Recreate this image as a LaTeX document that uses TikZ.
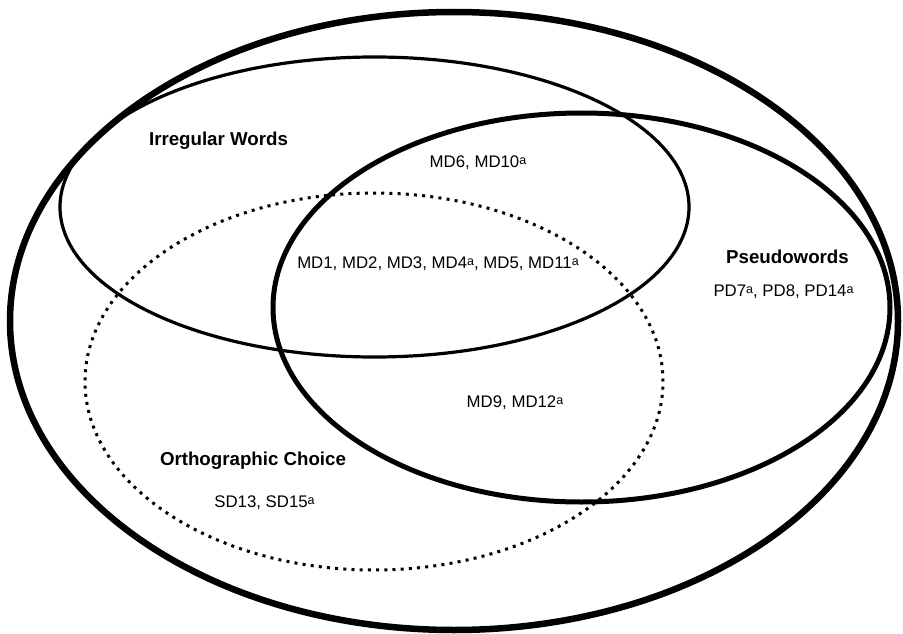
\documentclass[tikz,border=0pt]{standalone}
\usepackage{fontspec}
\setmainfont{Liberation Sans}
\tikzset{
	setname/.style={font=\fontsize{18.7}{22}\selectfont\bfseries,anchor=base},
	setitems/.style={font=\fontsize{16.8}{20}\selectfont,anchor=base},
	dotline/.style={line width=3pt,dash pattern=on 3pt off 5.2pt}
}
\newcommand{\sa}{\raisebox{3pt}{\fontsize{12.5}{12.5}\selectfont a}}
\begin{document}
\begin{tikzpicture}[x=1pt,y=-1pt]
	\useasboundingbox (0,0) rectangle (903,634);
	% sets
	\draw[line width=6.5pt](454,321) ellipse[x radius=444pt,y radius=309pt];
	\draw[line width=3.2pt](374.5,207) ellipse[x radius=314.5pt,y radius=150pt];
	\draw[line width=5pt](581.5,307.5) ellipse[x radius=308.5pt,y radius=194.5pt];
	\draw[dotline](374,381.5) ellipse[x radius=289pt,y radius=188.5pt];
	% labels
	\node[setname] (irr) at (218.5,145) {Irregular Words};
	\node[setname] (pseudo) at (787.5,263) {Pseudowords};
	\node[setname] (ortho) at (253,465) {Orthographic Choice};
	\node[setitems] (irrpseudo) at (478,167) {MD6, MD10\sa};
	\node[setitems] (allthree) at (438,268) {MD1, MD2, MD3, MD4\sa, MD5, MD11\sa};
	\node[setitems] (pseudoonly) at (783.5,296) {PD7\sa, PD8, PD14\sa};
	\node[setitems] (orthopseudo) at (515,407) {MD9, MD12\sa};
	\node[setitems] (orthoonly) at (264.5,507) {SD13, SD15\sa};
\end{tikzpicture}
\end{document}
